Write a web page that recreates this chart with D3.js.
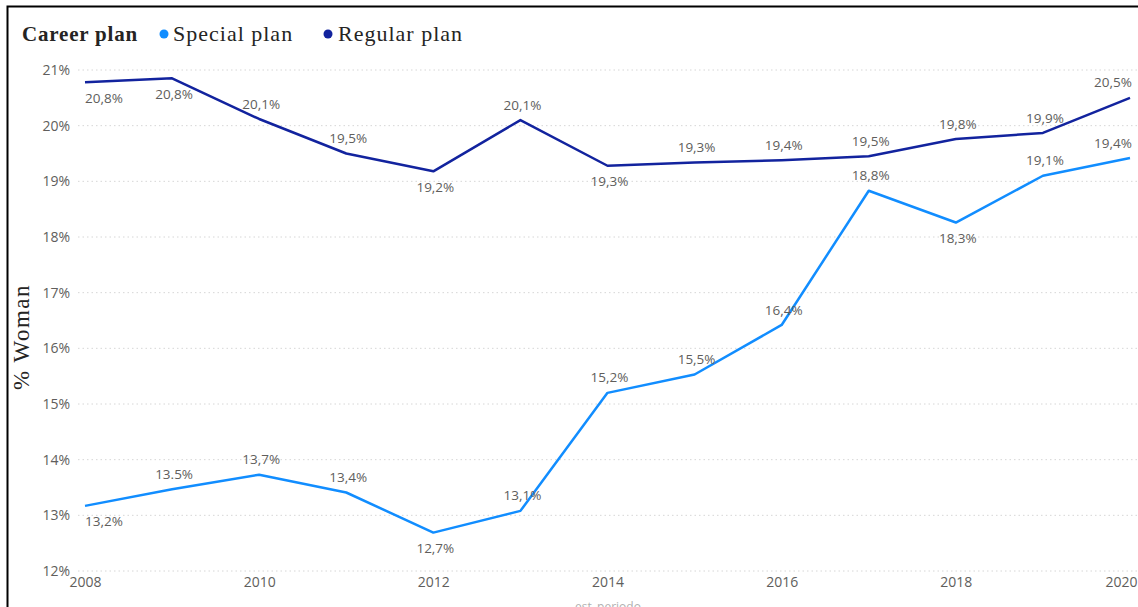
<!DOCTYPE html>
<html>
<head>
<meta charset="utf-8">
<script src="https://cdn.jsdelivr.net/npm/d3@7"></script>
<style>
    html, body { margin: 0; padding: 0; background: #fff; }
    svg { display: block; }
</style>
</head>
<body>
<div id="chart"></div>
<script>
// Years on the x-axis
const years = [2008, 2009, 2010, 2011, 2012, 2013, 2014, 2015, 2016, 2017, 2018, 2019, 2020];

// % of women, special plan
const specialValues = [13.17, 13.47, 13.73, 13.41, 12.69, 13.08, 15.2, 15.53, 16.42, 18.83, 18.26, 19.1, 19.42];
const specialLabels = ["13,2%", "13.5%", "13,7%", "13,4%", "12,7%", "13,1%", "15,2%", "15,5%", "16,4%", "18,8%", "18,3%", "19,1%", "19,4%"];
const specialSide = ["below", "above", "above", "above", "below", "above", "above", "above", "above", "above", "below", "above", "above"];

// % of women, regular plan
const regularValues = [20.78, 20.85, 20.12, 19.5, 19.18, 20.1, 19.28, 19.34, 19.38, 19.45, 19.76, 19.87, 20.5];
const regularLabels = ["20,8%", "20,8%", "20,1%", "19,5%", "19,2%", "20,1%", "19,3%", "19,3%", "19,4%", "19,5%", "19,8%", "19,9%", "20,5%"];
const regularSide = ["below", "below", "above", "above", "below", "above", "below", "above", "above", "above", "above", "above", "above"];

// Axis ticks
const yTicks = [12, 13, 14, 15, 16, 17, 18, 19, 20, 21];
const xTicks = [2008, 2010, 2012, 2014, 2016, 2018, 2020];

const width = 1138;
const height = 607;

const colors = {
    special: "#118DFF",
    regular: "#12239E"
};

const svg = d3.select("#chart").append("svg")
    .attr("width", width)
    .attr("height", height);

// Scales
const xScale = d3.scaleLinear().domain([2008, 2020]).range([85, 1130]);
const yScale = d3.scaleLinear().domain([12, 21]).range([571, 70]);

// Dotted gridlines
svg.append("g")
    .selectAll("line")
    .data(yTicks)
    .join("line")
    .attr("x1", 78)
    .attr("x2", width)
    .attr("y1", d => yScale(d))
    .attr("y2", d => yScale(d))
    .attr("stroke", "#d6d6d6")
    .attr("stroke-width", 1)
    .attr("stroke-dasharray", "1.5,3");

// Y axis (labels only)
const yAxis = d3.axisLeft(yScale).tickValues(yTicks).tickFormat(d => d + "%").tickSize(0).tickPadding(0);
const yAxisGroup = svg.append("g")
    .attr("transform", "translate(70,0)")
    .call(yAxis);
yAxisGroup.select(".domain").remove();
yAxisGroup.selectAll("text")
    .attr("fill", "#605E5C")
    .style("font-family", "'Open Sans', sans-serif")
    .style("font-size", "14px");

// X axis (labels only)
const xAxis = d3.axisBottom(xScale).tickValues(xTicks).tickFormat(d3.format("d")).tickSize(0).tickPadding(0);
const xAxisGroup = svg.append("g")
    .attr("transform", "translate(0,577)")
    .call(xAxis);
xAxisGroup.select(".domain").remove();
xAxisGroup.selectAll("text")
    .attr("fill", "#605E5C")
    .style("font-family", "'Open Sans', sans-serif")
    .style("font-size", "14px");
// Keep the last year inside the frame
xAxisGroup.selectAll(".tick").filter(d => d === 2020).select("text")
    .attr("text-anchor", "end")
    .attr("x", 7);

// Lines
const line = d3.line()
    .x((d, i) => xScale(years[i]))
    .y(d => yScale(d));

function drawSeries(values, labels, side, color) {
    svg.append("path")
        .datum(values)
        .attr("d", line)
        .attr("fill", "none")
        .attr("stroke", color)
        .attr("stroke-width", 2.5)
        .attr("stroke-linejoin", "round");

    svg.append("g")
        .selectAll("text")
        .data(values)
        .join("text")
        .attr("x", (d, i) => xScale(years[i]) + (i === 0 ? 19 : (i === years.length - 1 ? -17 : 2)))
        .attr("y", (d, i) => yScale(d) + (side[i] === "above" ? -14 : 17))
        .attr("text-anchor", "middle")
        .attr("dominant-baseline", "middle")
        .attr("fill", "#605E5C")
        .style("font-family", "'Open Sans', sans-serif")
        .style("font-size", "13.5px")
        .text((d, i) => labels[i]);
}

drawSeries(regularValues, regularLabels, regularSide, colors.regular);
drawSeries(specialValues, specialLabels, specialSide, colors.special);

// Legend
const legend = svg.append("g").style("font-family", "'Liberation Serif', 'Times New Roman', serif");
legend.append("text")
    .attr("x", 22).attr("y", 41)
    .attr("font-weight", "bold")
    .attr("font-size", "21px")
    .attr("letter-spacing", "0.8px")
    .attr("fill", "#252423")
    .text("Career plan");
legend.append("circle").attr("cx", 164).attr("cy", 34).attr("r", 4.5).attr("fill", colors.special);
legend.append("text")
    .attr("x", 173).attr("y", 41)
    .attr("font-size", "22px")
    .attr("letter-spacing", "1px")
    .attr("fill", "#252423")
    .text("Special plan");
legend.append("circle").attr("cx", 328).attr("cy", 34).attr("r", 4.5).attr("fill", colors.regular);
legend.append("text")
    .attr("x", 338).attr("y", 41)
    .attr("font-size", "22px")
    .attr("letter-spacing", "1px")
    .attr("fill", "#252423")
    .text("Regular plan");

// Y axis title
svg.append("text")
    .attr("transform", "translate(29,337) rotate(-90)")
    .attr("text-anchor", "middle")
    .style("font-family", "'Liberation Serif', 'Times New Roman', serif")
    .style("font-size", "23px")
    .attr("letter-spacing", "1.5px")
    .attr("fill", "#252423")
    .text("% Woman");

// X axis title (cut off by the frame, as in the source)
svg.append("text")
    .attr("x", 608).attr("y", 611)
    .attr("text-anchor", "middle")
    .style("font-family", "'Open Sans', sans-serif")
    .style("font-size", "12px")
    .attr("fill", "#b0b0b0")
    .text("est_periodo");

// Frame (top and left edges)
svg.append("path")
    .attr("d", "M7.5,607V6.5H1138")
    .attr("fill", "none")
    .attr("stroke", "#000")
    .attr("stroke-width", 2);
</script>
</body>
</html>
